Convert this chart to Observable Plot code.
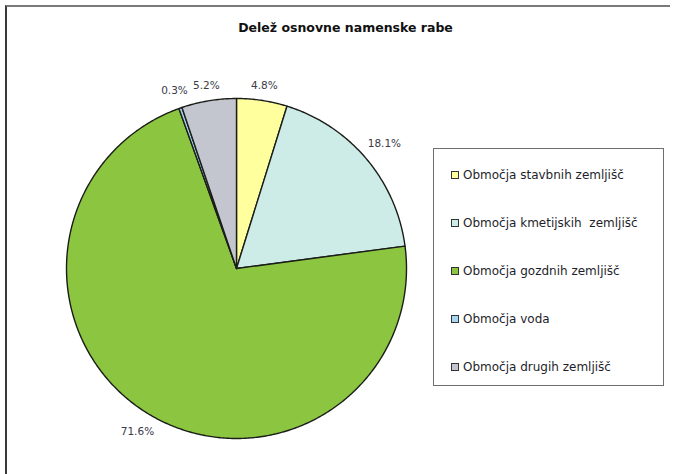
<!DOCTYPE html>
<html>
<head>
<meta charset="utf-8">
<script src="https://cdn.jsdelivr.net/npm/d3@7"></script>
<script src="https://cdn.jsdelivr.net/npm/@observablehq/plot@0.6"></script>
<style>
  html, body { margin: 0; padding: 0; background: #fff; }
  #wrap { position: relative; width: 674px; height: 474px; overflow: hidden; font-family: "DejaVu Sans", "Liberation Sans", Arial, sans-serif; }
  #frame { position: absolute; left: 5px; top: 5px; width: 663px; height: 520px;
           border-left: 2px solid #3a3a3a; border-top: 2px solid #7a7a7a; pointer-events: none; }
  #legend { position: absolute; left: 433px; top: 148px; width: 231px; height: 238px;
            border: 1px solid #6e6e6e; box-sizing: border-box; background: #fff; }
  .item { position: absolute; left: 17px; font-size: 12px; color: #1e1e2a; white-space: nowrap; display: flex; align-items: center; }
  .sw { width: 6px; height: 6px; border: 1px solid #333; margin-right: 4px; }
</style>
</head>
<body>
<div id="wrap">
  <div id="chart"></div>
  <div id="frame"></div>
  <div id="legend"></div>
</div>
<script>
const title = "Delež osnovne namenske rabe";
const categories = [
  "Območja stavbnih zemljišč",
  "Območja kmetijskih  zemljišč",
  "Območja gozdnih zemljišč",
  "Območja voda",
  "Območja drugih zemljišč"
];
const values = [4.8, 18.1, 71.6, 0.3, 5.2];
const colors = ["#ffff9e", "#cdebe7", "#8cc540", "#a6d6f2", "#c3c6cf"];

// layout
const cx = 236, cy = 268, r = 170;

const data = categories.map((name, i) => ({name, value: values[i]}));
const arcs = d3.pie().sort(null).value(d => d.value)(data);

// build closed polygons for slices (unit coordinates, y up)
const poly = [];
arcs.forEach(a => {
  const n = Math.max(2, Math.ceil((a.endAngle - a.startAngle) / 0.01));
  poly.push({name: a.data.name, x: 0, y: 0});
  for (let k = 0; k <= n; k++) {
    const t = a.startAngle + (a.endAngle - a.startAngle) * k / n;
    poly.push({name: a.data.name, x: Math.sin(t), y: Math.cos(t)});
  }
  poly.push({name: a.data.name, x: 0, y: 0});
});

const labels = arcs.map(a => {
  const m = (a.startAngle + a.endAngle) / 2;
  const s = Math.sin(m), c = Math.cos(m);
  const k = 1 + (16 * Math.abs(s) + 5 * Math.abs(c) + 8) / r;
  return {x: s * k, y: c * k, text: a.data.value.toFixed(1) + "%"};
});

const plot = Plot.plot({
  width: 674,
  height: 474,
  margin: 0,
  style: {fontFamily: "'DejaVu Sans', 'Liberation Sans', Arial, sans-serif", background: "#fff"},
  x: {domain: [-1, 1], range: [cx - r, cx + r], axis: null},
  y: {domain: [-1, 1], range: [cy + r, cy - r], axis: null},
  color: {domain: categories, range: colors},
  marks: [
    Plot.line(poly, {x: "x", y: "y", z: "name", fill: "name", stroke: "#1a1d18", strokeWidth: 1.4, curve: "linear", strokeLinejoin: "round"}),
    Plot.text(labels, {x: "x", y: "y", text: "text", fontSize: 10.5, fill: "#3a3a48", textAnchor: "middle", lineAnchor: "middle"}),
    Plot.text([title], {text: d => d, frameAnchor: "top", dy: 23, dx: 8, fontSize: 12.5, fontWeight: "bold", fill: "#111"})
  ]
});
document.getElementById("chart").appendChild(plot);

const legend = document.getElementById("legend");
const tops = categories.map((_, i) => 27 + i * 48);
categories.forEach((name, i) => {
  const it = document.createElement("div");
  it.className = "item";
  it.style.top = (tops[i] - 8) + "px";
  const sw = document.createElement("span");
  sw.className = "sw";
  sw.style.background = colors[i];
  const tx = document.createElement("span");
  tx.textContent = name;
  tx.style.whiteSpace = "pre";
  it.appendChild(sw);
  it.appendChild(tx);
  legend.appendChild(it);
});
</script>
</body>
</html>
